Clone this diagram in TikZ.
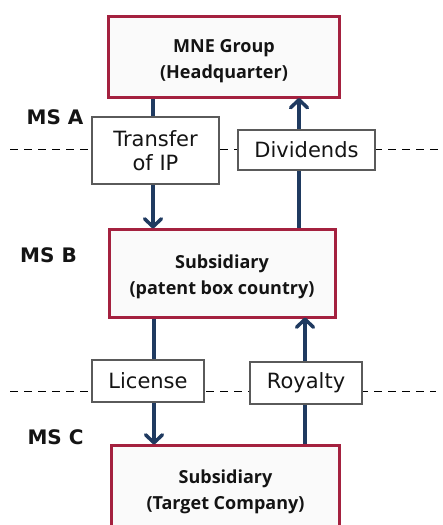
\documentclass[tikz,border=0pt]{standalone}
\usepackage{fontspec}
\setmainfont{DejaVu Sans}
\newfontfamily\titlefont{Open Sans}
\usetikzlibrary{arrows.meta}
\definecolor{entityred}{HTML}{A4213F}
\definecolor{flownavy}{HTML}{1F3A60}
\definecolor{tagframe}{HTML}{5A5A5A}
\definecolor{inkblack}{HTML}{141414}
\tikzset{
  entity/.style={draw=entityred, line width=3pt, fill=black!2, rectangle, inner sep=0pt},
  entitytext/.style={align=center, text=inkblack, inner sep=0pt,
    font=\titlefont\bfseries\fontsize{18}{25.5}\selectfont},
  tag/.style={draw=tagframe, line width=1.3pt, fill=white, rectangle,
    align=center, text=inkblack, inner sep=0pt,
    font=\fontsize{21}{24}\selectfont},
  state/.style={font=\bfseries\fontsize{20}{24}\selectfont, text=inkblack, inner sep=0pt},
  border/.style={draw=black, line width=1pt, dash pattern=on 8pt off 6pt},
  flow/.style={draw=flownavy, line width=4pt,
    -{Straight Barb[length=8pt, width=17pt, line width=3.5pt, round]}}
}
\begin{document}
\begin{tikzpicture}[x=1pt, y=-1pt]
  \useasboundingbox (0,0) rectangle (442,525);
  \clip (0,0) rectangle (442,525);

  % country borders
  \coordinate (la) at (10,149);  \coordinate (ra) at (442,149);
  \coordinate (lb) at (10,391);  \coordinate (rb) at (436,391);
  \draw[border] (la) -- (ra);
  \draw[border] (lb) -- (rb);

  % member states
  \node[state] (msa) at (55,117) {MS A};
  \node[state] (msb) at (48.5,255) {MS B};
  \node[state] (msc) at (55.5,437) {MS C};

  % entities
  \node[entity, minimum width=231pt, minimum height=81pt,
    label={[entitytext, yshift=-4pt]center:{MNE Group\\(Headquarter)}}] (mne) at (224,57) {};
  \node[entity, minimum width=226pt, minimum height=88pt,
    label={[entitytext, yshift=-4pt]center:{Subsidiary\\(patent box country)}}] (subb) at (222,273) {};
  \node[entity, minimum width=228pt, minimum height=90pt,
    label={[entitytext, yshift=-2pt]center:{Subsidiary\\(Target Company)}}] (subc) at (225.5,490) {};

  % arrow columns
  \coordinate (xa) at (153,0);
  \coordinate (xd) at (299,0);
  \coordinate (xl) at (154,0);
  \coordinate (xr) at (305,0);

  % flows
  \draw[flow] (xa |- mne.south) -- ([yshift=-1pt]xa |- subb.north);
  \draw[flow] (xd |- subb.north) -- ([yshift=1pt]xd |- mne.south);
  \draw[flow] (xl |- subb.south) -- ([yshift=-1pt]xl |- subc.north);
  \draw[flow] (xr |- subc.north) -- ([yshift=1pt]xr |- subb.south);

  % flow labels
  \node[tag, minimum width=127pt, minimum height=67pt] (transfer) at (155.5,150.5)
    {Transfer\\of IP};
  \node[tag, minimum width=137pt, minimum height=40pt] (dividends) at (306.5,150)
    {Dividends};
  \node[tag, minimum width=112pt, minimum height=42pt] (license) at (148,381)
    {License};
  \node[tag, minimum width=112pt, minimum height=42pt] (royalty) at (306,383)
    {Royalty};
\end{tikzpicture}
\end{document}
